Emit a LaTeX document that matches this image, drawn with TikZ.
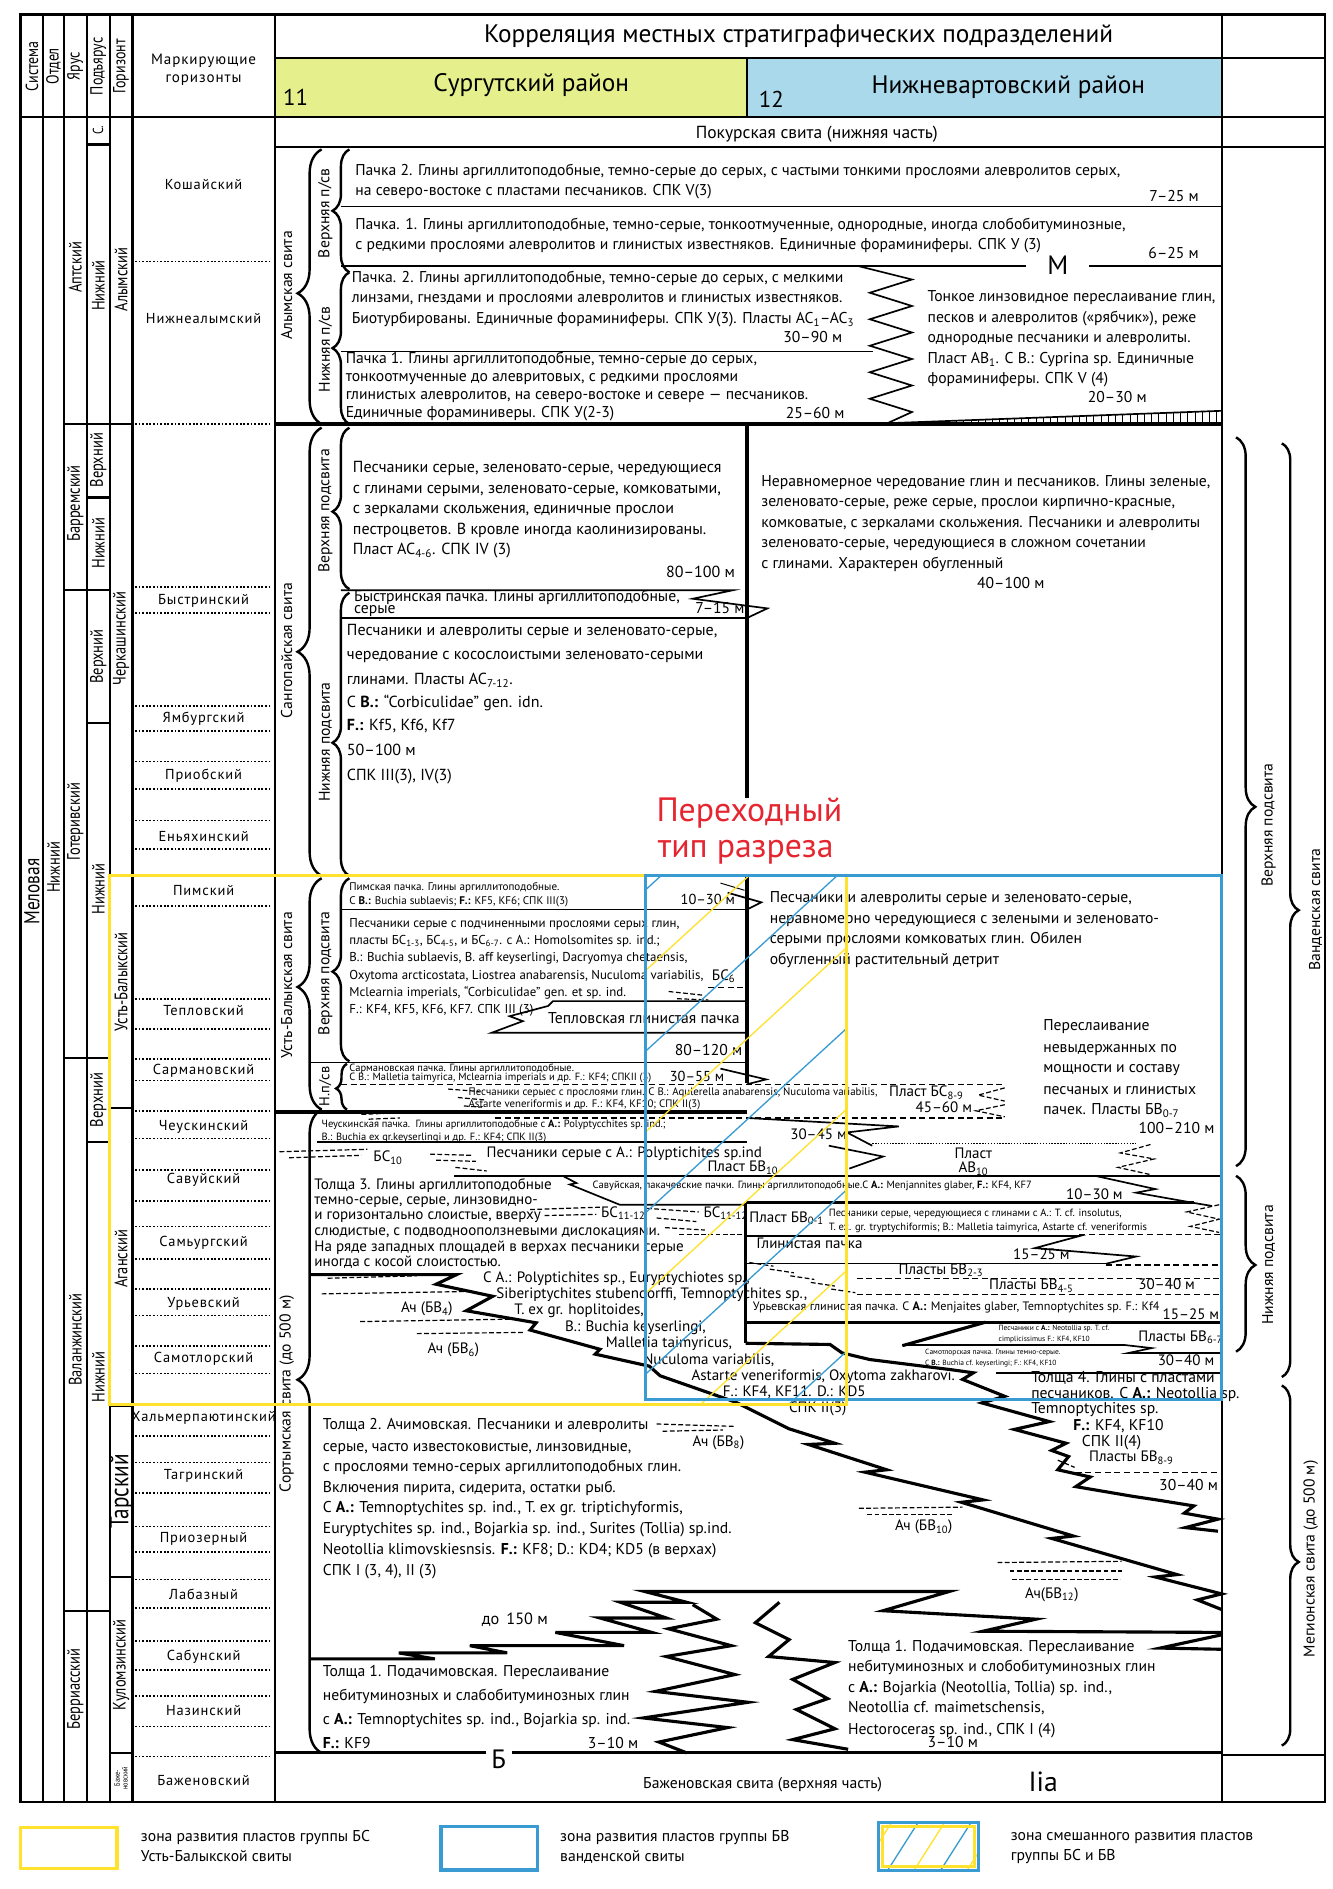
\documentclass[tikz,border=0pt]{standalone}
\usepackage{fontspec}
\setmainfont{PT Sans}
\newfontfamily\cnd[FakeStretch=0.8]{PT Sans}
\newfontfamily\mkf[LetterSpace=6]{PT Sans}
\usetikzlibrary{decorations.pathreplacing}
\definecolor{hdy}{HTML}{E5EF8C}
\definecolor{hdb}{HTML}{AAD9EC}
\definecolor{zy}{HTML}{FFE22E}
\definecolor{zb}{HTML}{3A9BD2}
\definecolor{rd}{HTML}{E52530}
\newcommand\fsz[1]{\fontsize{#1}{#1}\selectfont}
\newcommand\sbs[1]{\textsubscript{#1}}
\begin{document}
\begin{tikzpicture}[x=1pt,y=-1pt,
  every node/.style={inner sep=0pt,outer sep=0pt},
  fr/.style={line width=1.8pt},
  tk/.style={line width=2.6pt},
  md/.style={line width=1.4pt},
  tn/.style={line width=0.8pt},
  dsh/.style={line width=1pt,dash pattern=on 5pt off 3pt},
  mk/.style={line width=1.4pt,dash pattern=on 1.5pt off 1.5pt},
  lens/.style={line width=1pt,dash pattern=on 4pt off 2pt},
  bl/.style={decorate,decoration={brace,amplitude=20pt,aspect=#1},line width=2pt},
  bs/.style={decorate,decoration={brace,amplitude=14pt,aspect=#1},line width=2pt},
  bt/.style={decorate,decoration={brace,amplitude=9pt,aspect=#1},line width=2pt},
  br/.style={decorate,decoration={brace,amplitude=16pt,aspect=#1},line width=2pt},
  T/.style={font=\fsz{13},anchor=mid west},
  TR/.style={font=\fsz{13},anchor=mid east},
  S/.style={font=\fsz{10.7},anchor=mid west},
  P/.style={font=\fsz{9.2},anchor=mid west},
  X/.style={font=\fsz{8.7},anchor=mid west},
  XX/.style={font=\fsz{6.2},anchor=mid west},
  V/.style={rotate=90,font=\fsz{13}},
  C/.style={rotate=90,font=\cnd\fsz{15}}
]
\fill[white] (0,0) rectangle (1106,1568);
\useasboundingbox (0,0) rectangle (1106,1568);
% ---------------- header fills ----------------
\fill[hdy] (228,48) rectangle (620,97);
\fill[hdb] (620,48) rectangle (1014,97);
% ---------------- frame ----------------
\draw[fr] (17,12) rectangle (1100,1496);
\foreach \x in {36,53,72,91,110,228,1014} \draw[fr] (\x,12) -- (\x,1496);
\draw[fr] (17,97) -- (228,97);
\draw[fr] (228,48) -- (1100,48);
\draw[fr] (228,97) -- (1100,97);
\draw[fr] (228,122) -- (1100,122);
\draw[fr] (620,48) -- (620,97);
\draw[fr] (1014,1457) -- (1100,1457);
% left column cells
\foreach \y in {352,490,878,1337} \draw[fr] (53,\y) -- (72,\y);
\foreach \y in {120,352,413,490,600,878,948,1337} \draw[fr] (72,\y) -- (91,\y);
\foreach \y in {352,727,920,1167,1309,1455} \draw[fr] (91,\y) -- (110,\y);
\foreach \y in {217,352,487,509,586,607,632,655,681,705,752,829,854,879,897,922,945,971,997,1018,1045,1070,1092,1117,1140,1192,1214,1239,1267,1288,1311,1335,1362,1386,1408,1433,1458}
  \draw[mk] (112,\y) -- (226,\y);
% ---------------- header texts ----------------
\node[C,font=\cnd\fsz{14.5}] (h1) at (26.5,55) {Система};
\node[C,font=\cnd\fsz{14.5}] (h2) at (44.5,55) {Отдел};
\node[C,font=\cnd\fsz{14.5}] (h3) at (62.5,55) {Ярус};
\node[C,font=\cnd\fsz{14.5}] (h4) at (81.5,55) {Подъярус};
\node[C,font=\cnd\fsz{14.5}] (h5) at (100.5,55) {Горизонт};
\node[font=\mkf\fsz{12.5},align=center] (h6) at (169,58) {Маркирующие\\[3pt]горизонты};
\node[font=\fsz{21}] (title) at (663,30) {Корреляция местных стратиграфических подразделений};
\node[font=\fsz{21}] (reg1) at (441,71) {Сургутский район};
\node[font=\fsz{21}] (reg2) at (837,72) {Нижневартовский район};
\node[font=\fsz{19},anchor=mid west] (n11) at (235,85) {11};
\node[font=\fsz{19},anchor=mid west] (n12) at (630,87) {12};
\node[font=\fsz{14.5}] (pk) at (678,111) {Покурская свита (нижняя часть)};
% ---------------- stratigraphic columns ----------------
\node[C,font=\cnd\fsz{18}] (sys) at (26.5,740) {Меловая};
\node[C] (otd) at (44.5,720) {Нижний};
\node[C] (y1) at (62.5,222) {Аптский};
\node[C] (y2) at (62.5,418) {Барремский};
\node[C] (y3) at (62.5,682) {Готеривский};
\node[C] (y4) at (62.5,1112) {Валанжинский};
\node[C] (y5) at (62.5,1402) {Берриасский};
\node[C,font=\cnd\fsz{12}] (p1) at (81.5,108) {С.};
\node[C] (p2) at (81.5,237) {Нижний};
\node[C] (p3) at (81.5,382) {Верхний};
\node[C] (p4) at (81.5,451) {Нижний};
\node[C] (p5) at (81.5,545) {Верхний};
\node[C] (p6) at (81.5,738) {Нижний};
\node[C] (p7) at (81.5,913) {Верхний};
\node[C] (p8) at (81.5,1143) {Нижний};
\node[C] (g1) at (100.5,232) {Алымский};
\node[C] (g2) at (100.5,530) {Черкашинский};
\node[C] (g3) at (100.5,815) {Усть-Балыкский};
\node[C] (g4) at (100.5,1045) {Аганский};
\node[C,font=\cnd\fsz{22}] (g5) at (101,1238) {Тарский};
\node[C] (g6) at (100.5,1382) {Куломзинский};
\node[C,font=\cnd\fsz{6.5},align=center] (g7) at (100.5,1476) {Баже-\\новский};
\foreach \y/\t [count=\i] in {153/Кошайский,264/Нижнеалымский,499/Быстринский,597/Ямбургский,644/Приобский,694/Еньяхинский,739/Пимский,839/Тепловский,889/Сармановский,935/Чеускинский,979/Савуйский,1032/Самьургский,1082/Урьевский,1128/Самотлорский,1177/Хальмерпаютинский,1225/Тагринский,1277/Приозерный,1323/Лабазный,1375/Сабунский,1420/Назинский,1478/Баженовский}
  \node[font=\mkf\fsz{12}] (mk\i) at (169,\y) {\t};
% =============== ALYM ===============
\node[V] (al0) at (238,237) {Алымская свита};
\draw[bl=0.476] (267,352) -- (267,124);
\node[V] (al1) at (270,177) {Верхняя п/св};
\node[V] (al2) at (270,290) {Нижняя п/св};
\draw[bs=0.5] (290,226) -- (290,124);
\draw[bs=0.5] (290,352) -- (290,226);
\draw[tn] (283,171.5) -- (1014,171.5);
\draw[md] (283,221) -- (852,221);
\draw[md] (904,221) -- (1014,221);
\draw[tn] (283,292) -- (725,292);
\draw[md] (713,221) -- (757,232) -- (722,243) -- (757,254) -- (722,265) -- (757,276) -- (722,287) -- (757,298) -- (722,309) -- (757,320) -- (722,331) -- (757,342) -- (735,352);
\draw[md] (745,351) -- (1014,341);
\foreach \x in {752,758,...,1010} \draw[tn] (\x,{351-(\x-745)*10/269}) -- (\x,352);
\draw[tk] (228,352) -- (1014,352);
\node[T] (a1) at (295,143) {Пачка 2. Глины аргиллитоподобные, темно-серые до серых, с частыми тонкими прослоями алевролитов серых,};
\node[T] (a2) at (295,160) {на северо-востоке с пластами песчаников. СПК V(3)};
\node[TR] (a3) at (995,165) {7–25 м};
\node[T] (a4) at (295,188) {Пачка. 1. Глины аргиллитоподобные, темно-серые, тонкоотмученные, однородные, иногда слобобитуминозные,};
\node[T] (a5) at (295,205) {с редкими прослоями алевролитов и глинистых известняков. Единичные фораминиферы. СПК У (3)};
\node[TR] (a6) at (995,212) {6–25 м};
\node[font=\fsz{22}] (a7) at (878,220) {М};
\node[T] (a8) at (292,232) {Пачка. 2. Глины аргиллитоподобные, темно-серые до серых, с мелкими};
\node[T] (a9) at (292,249) {линзами, гнездами и прослоями алевролитов и глинистых известняков.};
\node[T] (a10) at (292,266) {Биотурбированы. Единичные фораминиферы. СПК У(3). Пласты АС\sbs{1}–АС\sbs{3}};
\node[TR] (a11) at (699,282) {30–90 м};
\node[T] (a12) at (287,299) {Пачка 1. Глины аргиллитоподобные, темно-серые до серых,};
\node[T] (a13) at (287,314) {тонкоотмученные до алевритовых, с редкими прослоями};
\node[T] (a14) at (287,329) {глинистых алевролитов, на северо-востоке и севере — песчаников.};
\node[T] (a15) at (287,344) {Единичные фораминиверы. СПК У(2-3)};
\node[TR] (a16) at (701,345) {25–60 м};
\node[T] (a17) at (770,248) {Тонкое линзовидное переслаивание глин,};
\node[T] (a18) at (770,265) {песков и алевролитов («рябчик»), реже};
\node[T] (a19) at (770,282) {однородные песчаники и алевролиты.};
\node[T] (a20) at (770,299) {Пласт АВ\sbs{1}. С В.: Cyprina sp. Единичные};
\node[T] (a21) at (770,316) {фораминиферы. СПК V (4)};
\node[T] (a22) at (903,332) {20–30 м};
% =============== SANGOPAY ===============
\node[V] (sg0) at (238,540) {Сангопайская свита};
\draw[bl=0.5] (267,727) -- (267,355);
\node[V] (sg1) at (270,424) {Верхняя подсвита};
\node[V] (sg2) at (270,616) {Нижняя подсвита};
\draw[bs=0.48] (290,489) -- (290,355);
\draw[bs=0.47] (290,727) -- (290,492);
\draw[md] (283,490) -- (608,490) -- (575,497) -- (637,505) -- (620,513);
\draw[md] (283,513) -- (620,513);
\draw[tk] (620,352) -- (620,662);
\node[font=\fsz{13.3},anchor=mid west] (s1) at (293,390) {Песчаники серые, зеленовато-серые, чередующиеся};
\node[font=\fsz{13.3},anchor=mid west] (s2) at (293,407) {с глинами серыми, зеленовато-серые, комковатыми,};
\node[font=\fsz{13.3},anchor=mid west] (s3) at (293,424) {с зеркалами скольжения, единичные прослои};
\node[font=\fsz{13.3},anchor=mid west] (s4) at (293,441) {пестроцветов. В кровле иногда каолинизированы.};
\node[font=\fsz{13.3},anchor=mid west] (s5) at (293,458) {Пласт АС\sbs{4-6}. СПК IV (3)};
\node[font=\fsz{13.3},anchor=mid east] (s6) at (610,477) {80–100 м};
\node[T] (s7) at (294,497) {Быстринская пачка. Глины аргиллитоподобные,};
\node[T] (s8) at (294,507) {серые};
\node[TR] (s9) at (618,507) {7–15 м};
\node[font=\fsz{13.3},anchor=mid west] (s10) at (288,525) {Песчаники и алевролиты серые и зеленовато-серые,};
\node[font=\fsz{13.3},anchor=mid west] (s11) at (288,545) {чередование с косослоистыми зеленовато-серыми};
\node[font=\fsz{13.3},anchor=mid west] (s12) at (288,566) {глинами. Пласты АС\sbs{7-12}.};
\node[font=\fsz{13.3},anchor=mid west] (s13) at (288,585) {С \textbf{В.:} “Corbiculidae” gen. idn.};
\node[font=\fsz{13.3},anchor=mid west] (s14) at (288,604) {\textbf{F.:} Kf5, Kf6, Kf7};
\node[font=\fsz{13.3},anchor=mid west] (s15) at (288,625) {50–100 м};
\node[font=\fsz{13.3},anchor=mid west] (s16) at (288,645) {СПК III(3), IV(3)};
\node[T] (s17) at (632,401) {Неравномерное чередование глин и песчаников. Глины зеленые,};
\node[T] (s18) at (632,418) {зеленовато-серые, реже серые, прослои кирпично-красные,};
\node[T] (s19) at (632,435) {комковатые, с зеркалами скольжения. Песчаники и алевролиты};
\node[T] (s20) at (632,452) {зеленовато-серые, чередующиеся в сложном сочетании};
\node[T] (s21) at (632,469) {с глинами. Характерен обугленный};
\node[font=\fsz{13}] (s22) at (839,484) {40–100 м};
\node[font=\fsz{28},text=rd] (red1) at (622,675) {Переходный};
\node[font=\fsz{28},text=rd] (red2) at (619,707) {тип разреза};
% =============== UST-BALYK ===============
\node[V] (ub0) at (238,818) {Усть-Балыкская свита};
\draw[bl=0.53] (267,921) -- (267,729);
\node[V] (ub1) at (270,808) {Верхняя подсвита};
\node[V,font=\fsz{12}] (ub2) at (270,902) {Н.п/св};
\draw[bs=0.49] (290,881) -- (290,729);
\draw[bt=0.46] (288,921) -- (288,883);
\draw[md] (284,755) -- (620,755);
\draw[tn] (598,733) -- (618,739);
\draw[md] (604,741) -- (632,749) -- (620,755);
\draw[tk] (620,727) -- (620,899);
\draw[md] (620,831) -- (459,831) -- (455,835) -- (423,843.5) -- (434,847.6) -- (408,857.3) -- (620,857.3);
\draw[dsh] (588,820) -- (620,820);
\draw[lens] (555,823) -- (583,826);
\draw[lens] (562,829) -- (588,830);
\draw[md] (257,882) -- (622,882);
\draw[md] (598,887) -- (636,896) -- (620,900);
\draw[dsh] (283,900) -- (834,900);
\draw[tk] (228,923) -- (620,923);
\draw[dsh] (411,928) -- (834,928);
\draw[lens] (834,903) -- (812,909) -- (834,914);
\draw[lens] (834,917) -- (810,922) -- (834,927);
\node[P] (u1) at (290,737) {Пимская пачка. Глины аргиллитоподобные.};
\node[P] (u2) at (290,748) {С \textbf{B.:} Buchia sublaevis; \textbf{F.:} KF5, KF6; СПК III(3)};
\node[font=\fsz{12},anchor=mid west] (u3) at (565,748) {10–30 м};
\node[S] (u4) at (290,767.5) {Песчаники серые с подчиненными прослоями серых глин,};
\node[S] (u5) at (290,781.5) {пласты БС\sbs{1-3}, БС\sbs{4-5}, и БС\sbs{6-7}. с А.: Homolsomites sp. ind.;};
\node[S] (u6) at (290,796) {B.: Buchia sublaevis, B. aff keyserlingi, Dacryomya chetaensis,};
\node[S] (u7) at (290,810.5) {Oxytoma arcticostata, Liostrea anabarensis, Nuculoma variabilis,};
\node[font=\fsz{12.5},anchor=mid west] (u8) at (591,811) {БС\sbs{6}};
\node[S] (u9) at (290,825) {Mclearnia imperials, “Corbiculidae” gen. et sp. ind.};
\node[S] (u10) at (290,839) {F.: KF4, KF5, KF6, KF7. СПК III (3)};
\node[T] (u11) at (455,847) {Тепловская глинистая пачка};
\node[TR] (u12) at (616,874) {80–120 м};
\node[X] (u13) at (290,887) {Сармановская пачка. Глины аргиллитоподобные.};
\node[X] (u14) at (290,894.5) {С В.: Malletia taimyrica, Mclearnia imperials и др. F.: KF4; СПКII (3)};
\node[font=\fsz{12},anchor=mid west] (u15) at (556,895) {30–55 м};
\node[font=\fsz{9},anchor=mid west] (u16) at (389,907) {Песчаники серыес с прослоями глин. С В.: Aqulerella anabarensis, Nuculoma variabilis,};
\node[font=\fsz{9},anchor=mid west] (u17) at (389,917) {Astarte veneriformis и др. F.: KF4, KF10; СПК II(3)};
\node[font=\fsz{12.5},anchor=mid west] (u18) at (738,908) {Пласт БС\sbs{8-9}};
\node[font=\fsz{12.5},anchor=mid west] (u19) at (760,921) {45–60 м};
\draw[lens] (372,904) -- (398,906);
\draw[lens] (380,911) -- (402,913);
\draw[lens] (385,918) -- (400,919);
\draw[lens] (300,925) -- (345,923);
\draw[lens] (306,929) -- (332,928);
\node[T] (u20) at (639,747) {Песчаники и алевролиты серые и зеленовато-серые,};
\node[T] (u21) at (639,764) {неравномерно чередующиеся с зелеными и зеленовато-};
\node[T] (u22) at (639,781) {серыми прослоями комковатых глин. Обилен};
\node[T] (u23) at (639,798.5) {обугленный растительный детрит};
\node[T] (u24) at (866,853) {Переслаивание};
\node[T] (u25) at (866,871) {невыдержанных по};
\node[T] (u26) at (866,888) {мощности и составу};
\node[T] (u27) at (866,906) {песчаных и глинистых};
\node[T] (u28) at (866,923) {пачек. Пласты БВ\sbs{0-7}};
\node[TR] (u29) at (1008,938) {100–210 м};
% =============== SORTYM ===============
\node[V] (st0) at (238,1157) {Сортымская свита (до 500 м)};
\draw[bl=0.58] (267,1455) -- (267,921);
\node[X] (c1) at (267,933) {Чеускинская пачка.\, Глины аргиллитоподобные с \textbf{A.:} Polyptycchites sp. ind.;};
\node[X] (c2) at (267,944.5) {B.: Buchia ex gr.keyserlingi и др. F.: KF4; СПК II(3)};
\draw[md] (263,948) -- (620,948);
\draw[md] (620,928) -- (746,935) -- (703,940) -- (724,951);
\draw[line width=1pt,dash pattern=on 1.2pt off 1.2pt] (724,949) -- (943,949);
\node[font=\fsz{12.5},anchor=mid west] (c3) at (656,943) {30–45 м};
\draw[lens] (232,956) -- (305,954);
\draw[lens] (240,961) -- (300,959);
\draw[lens] (357,958) -- (392,959);
\draw[lens] (362,963) -- (395,964);
\draw[lens] (378,969) -- (404,972);
\node[font=\fsz{12.5},anchor=mid west] (c4) at (310,962) {БС\sbs{10}};
\node[font=\fsz{12.5},anchor=mid west] (c5) at (404,958) {Песчаники серые с А.: Polyptichites sp.ind};
\node[font=\fsz{12.5},anchor=mid east] (c6) at (646,970) {Пласт БВ\sbs{10}};
\draw[md] (688,951) -- (733,960) -- (705,970);
\node[font=\fsz{12.5}] (c7) at (808,957) {Пласт};
\node[font=\fsz{12.5}] (c8) at (808,970) {АВ\sbs{10}};
\draw[lens] (955,950) -- (930,957) -- (958,962) -- (928,969) -- (955,975);
\draw[md] (377,976) -- (1014,976);
\draw[md] (467,976) -- (478.5,982) -- (473,983.2) -- (514.4,1000) -- (619,1000);
\draw[md] (909,976) -- (959,987) -- (943,990) -- (991,998.5) -- (1006,1001);
\node[X] (c9) at (492,984) {Савуйская, пакачевские пачки. Глины аргиллитоподобные.С \textbf{A.:} Menjannites glaber, \textbf{F.:} KF4, KF7};
\node[font=\fsz{12.5},anchor=mid west] (c10) at (885,993) {10–30 м};
% box BV
\draw[tk] (619,998.5) -- (991,998.5);
\draw[tk] (619,998.5) -- (619,1115);
\node[font=\fsz{12.5},anchor=mid west] (v1) at (622,1012) {Пласт БВ\sbs{0-1}};
\node[X] (v2) at (688,1007) {Песчаники серые, чередующиеся с глинами с А.: T. cf. insolutus,};
\node[X] (v3) at (688,1018.5) {T. ex. gr. tryptychiformis; B.: Malletia taimyrica, Astarte cf. veneriformis};
\draw[lens] (1012,1000) -- (985,1006) -- (1012,1012) -- (988,1018) -- (1012,1023);
\draw[dsh] (896,1025) -- (1014,1025);
\draw[md] (619,1026) -- (896,1026) -- (859,1036) -- (943,1043) -- (918,1049);
\node[font=\fsz{12.5},anchor=mid west] (v4) at (628,1034) {Глинистая пачка};
\node[font=\fsz{12.5},anchor=mid west] (v5) at (841,1043) {15–25 м};
\draw[tn] (619,1049) -- (918,1049);
\draw[dsh] (918,1050) -- (1014,1050);
\draw[dsh] (711,1061.5) -- (1014,1061.5);
\draw[dsh] (711,1074.5) -- (1014,1074.5);
\foreach \i in {0,...,4} \draw[lens] ({622+\i*17},{1048+\i*5.5}) -- ({642+\i*17},{1051+\i*5.5});
\node[font=\fsz{12.5},anchor=mid west] (v6) at (746,1055) {Пласты БВ\sbs{2-3}};
\node[font=\fsz{12.5},anchor=mid west] (v7) at (821,1068) {Пласты БВ\sbs{4-5}};
\node[font=\fsz{12.5},anchor=mid west] (v8) at (945,1068) {30–40 м};
\node[font=\fsz{10.1},anchor=mid west] (v9) at (625,1085) {Урьевская глинистая пачка. С \textbf{A.:} Menjaites glaber, Temnoptychites sp. F.: Kf4};
\node[font=\fsz{12.5},anchor=mid east] (v10) at (1012,1093) {15–25 м};
\draw[tk] (619,1097.5) -- (1014,1097.5);
\draw[tk] (818,1097.5) -- (749,1117);
\draw[md] (749,1116.5) -- (934,1116.5) -- (956,1119) -- (937,1123) -- (1014,1123);
\node[XX] (v11) at (829,1102) {Песчаники с \textbf{A.:} Neotollia sp. T. cf.};
\node[XX] (v12) at (829,1111) {cimplicissimus F.: KF4, KF10};
\node[font=\fsz{12.5},anchor=mid west] (v13) at (945,1111) {Пласты БВ\sbs{6-7}};
\node[XX] (v14) at (768,1122) {Самотлорская пачка. Глины темно-серые.};
\node[XX] (v15) at (768,1131) {С \textbf{B.:} Buchia cf. keyserlingi; F.: KF4, KF10};
\node[font=\fsz{12.5},anchor=mid west] (v16) at (961,1131) {30–40 м};
\draw[md] (827,1139.5) -- (1014,1139.5);
\draw[tk] (619,1115) -- (689,1116) -- (699,1123) -- (722,1128.5) -- (790,1137) -- (808,1139.5) -- (799,1145) -- (834,1159) -- (815,1164.5) -- (871,1180) -- (842,1186.5) -- (885,1198) -- (873,1204) -- (887,1209) -- (878,1220) -- (905,1226) -- (893,1234) -- (940,1242) -- (960,1245) -- (991,1250) -- (983,1256) -- (1011,1261) -- (984,1268) -- (1011,1271);
% Tolshcha 3
\node[font=\fsz{12.5},anchor=mid west] (t1) at (261,985) {Толща 3. Глины аргиллитоподобные};
\node[font=\fsz{12.5},anchor=mid west] (t2) at (261,997.5) {темно-серые, серые, линзовидно-};
\node[font=\fsz{12.5},anchor=mid west] (t3) at (261,1010) {и горизонтально слоистые, вверху};
\node[font=\fsz{12.5},anchor=mid west] (t4) at (261,1023) {слюдистые, с подводнооползневыми дислокациями.};
\node[font=\fsz{12.5},anchor=mid west] (t5) at (261,1036) {На ряде западных площадей в верхах песчаники серые};
\node[font=\fsz{12.5},anchor=mid west] (t6) at (261,1049) {иногда с косой слоистостью.};
\draw[lens] (440,1004) -- (500,1002);
\draw[lens] (452,1009) -- (495,1008);
\node[font=\fsz{12.5},anchor=mid west] (t7) at (499,1008) {БС\sbs{11-12}};
\draw[lens] (537,1003) -- (580,1006);
\draw[lens] (545,1011) -- (578,1014);
\draw[lens] (552,1019) -- (585,1021);
\draw[lens] (564,1025) -- (619,1025);
\node[font=\fsz{12.5},anchor=mid west] (t8) at (584,1008) {БС\sbs{11-12}};
\node[font=\fsz{12.5},anchor=mid west] (t9) at (401,1062) {С A.: Polyptichites sp., Euryptychiotes sp.,};
\node[font=\fsz{12.5},anchor=mid west] (t10) at (412,1075.5) {Siberiptychites stubendorffi, Temnoptychites sp.,};
\node[font=\fsz{12.5},anchor=mid west] (t11) at (427,1089) {T. ex gr. hoplitoides,};
\node[font=\fsz{12.5},anchor=mid west] (t12) at (469,1103) {B.: Buchia keyserlingi,};
\node[font=\fsz{12.5},anchor=mid west] (t13) at (503,1116) {Malletia taimyricus,};
\node[font=\fsz{12.5},anchor=mid west] (t14) at (534,1130) {Nuculoma variabilis,};
\node[font=\fsz{12.5},anchor=mid west] (t15) at (574,1143) {Astarte veneriformis, Oxytoma zakharovi.};
\node[font=\fsz{12.5},anchor=mid west] (t16) at (600,1157) {F.: KF4, KF11. D.: KD5};
\node[font=\fsz{12.5},anchor=mid west] (t17) at (655,1170) {СПК II(3)};
\draw[lens] (272,1061) -- (346,1059);
\draw[lens] (267,1074) -- (390,1072);
\node[font=\fsz{12.5},anchor=mid west] (t18) at (333,1087) {Ач (БВ\sbs{4})};
\draw[lens] (299,1097) -- (423,1095);
\draw[lens] (346,1107) -- (434,1106);
\node[font=\fsz{12.5},anchor=mid west] (t19) at (355,1121) {Ач (БВ\sbs{6})};
\draw[tk] (257,1058) -- (379,1058) -- (362,1066) -- (409,1076) -- (387,1088) -- (445,1098) -- (440,1104) -- (498,1120) -- (494,1124) -- (539,1134) -- (548,1142) -- (611,1164) -- (655,1186) -- (693,1198) -- (671,1199) -- (736,1220) -- (718,1222) -- (816,1245) -- (798,1247) -- (891,1275) -- (873,1277) -- (977,1307) -- (959,1309) -- (1014,1323) -- (994,1328) -- (1014,1336);
% Tolshcha 4
\node[T] (f1) at (856,1145) {Толща 4. Глины с пластами};
\node[T] (f2) at (856,1158) {песчаников. С \textbf{A.:} Neotollia sp.};
\node[T] (f3) at (856,1171) {Temnoptychites sp.};
\node[T] (f4) at (891,1185) {\textbf{F.:} KF4, KF10};
\node[T] (f5) at (898,1198) {СПК II(4)};
\node[font=\fsz{12.5},anchor=mid west] (f6) at (904,1211) {Пласты БВ\sbs{8-9}};
\draw[dsh] (885,1222) -- (1012,1222);
\draw[lens] (878,1212) -- (892,1218);
\node[TR] (f7) at (1011,1235) {30–40 м};
% Tolshcha 2
\node[T] (w1) at (268,1184) {Толща 2. Ачимовская. Песчаники и алевролиты};
\node[T] (w2) at (268,1202) {серые, часто известоковистые, линзовидные,};
\node[T] (w3) at (268,1219) {с прослоями темно-серых аргиллитоподобных глин.};
\node[T] (w4) at (268,1236) {Включения пирита, сидерита, остатки рыб.};
\node[T] (w5) at (268,1253) {С \textbf{A.:} Temnoptychites sp. ind., T. ex gr. triptichyformis,};
\node[T] (w6) at (268,1270) {Euryptychites sp. ind., Bojarkia sp. ind., Surites (Tollia) sp.ind.};
\node[T] (w7) at (268,1288) {Neotollia klimovskiesnsis. \textbf{F.:} KF8; D.: KD4; KD5 (в верхах)};
\node[T] (w8) at (268,1305) {СПК I (3, 4), II (3)};
\draw[lens] (545,1182) -- (610,1184);
\draw[lens] (550,1188) -- (600,1187);
\node[font=\fsz{12.5},anchor=mid west] (w9) at (575,1198) {Ач (БВ\sbs{8})};
\draw[lens] (713,1252) -- (799,1251);
\draw[lens] (720,1257) -- (790,1257);
\node[font=\fsz{12.5},anchor=mid west] (w10) at (743,1268) {Ач (БВ\sbs{10})};
\draw[lens] (828,1297) -- (931,1296);
\draw[lens] (838,1304) -- (931,1304);
\draw[lens] (840,1311) -- (930,1311);
\node[font=\fsz{12.5},anchor=mid west] (w11) at (851,1324) {Ач(БВ\sbs{12})};
% Tolshcha 1
\draw[tk] (258,1377) -- (361,1377) -- (331,1372) -- (421,1372) -- (390,1366) -- (518,1366) -- (461,1355) -- (541,1355) -- (498,1343) -- (553,1343) -- (515,1330) -- (570,1330) -- (535,1321) -- (788,1321) -- (733,1337) -- (860,1344) -- (816,1354) -- (1014,1355);
\draw[tk] (1014,1357) -- (963,1368) -- (1014,1369);
\draw[tk] (575,1332) -- (595,1344) -- (555,1352) -- (607,1366) -- (553,1375) -- (610,1390) -- (544,1404) -- (621,1413) -- (534,1426) -- (604,1434) -- (547,1446) -- (570,1455);
\draw[tk] (647,1330) -- (627,1347) -- (655,1361) -- (638,1375) -- (693,1380) -- (658,1394) -- (687,1410) -- (661,1419) -- (693,1435) -- (658,1444) -- (704,1452);
\node[font=\fsz{13.5},anchor=mid west] (z0) at (400,1346) {до\, 150 м};
\node[T] (z1) at (268,1389) {Толща 1. Подачимовская. Переслаивание};
\node[T] (z2) at (268,1409) {небитуминозных и слабобитуминозных глин};
\node[T] (z3) at (268,1429) {с \textbf{A.:} Temnoptychites sp. ind., Bojarkia sp. ind.};
\node[T] (z4) at (268,1449) {\textbf{F.:} KF9};
\node[T] (z5) at (488,1449) {3–10 м};
\node[T] (z6) at (704,1368) {Толща 1. Подачимовская. Переслаивание};
\node[T] (z7) at (704,1385) {небитуминозных и слобобитуминозных глин};
\node[T] (z8) at (704,1402) {с \textbf{A.:} Bojarkia (Neotollia, Tollia) sp. ind.,};
\node[T] (z9) at (704,1419) {Neotollia cf. maimetschensis,};
\node[T] (z10) at (704,1437) {Hectoroceras sp. ind., СПК I (4)};
\node[T] (z11) at (770,1448) {3–10 м};
\draw[tk] (228,1455) -- (403,1455);
\draw[tk] (425,1455) -- (1014,1455);
\node[font=\fsz{22}] (bb) at (414,1460) {Б};
\node[font=\fsz{13}] (bz) at (633,1481) {Баженовская свита (верхняя часть)};
\node[font=\fsz{23}] (iia) at (866,1479) {Iia};
% =============== RIGHT BRACES ===============
\draw[br=0.507] (1026,363) -- (1026,968);
\draw[br=0.507] (1026,976) -- (1026,1122);
\draw[bs=0.5] (1064,368) -- (1064,1143);
\draw[bs=0.49] (1064,1150) -- (1064,1449);
\node[V,font=\fsz{13}] (k1) at (1053,685) {Верхняя подсвита};
\node[V,font=\fsz{13}] (k2) at (1053,1050) {Нижняя подсвита};
\node[V,font=\fsz{13}] (k3) at (1092,755) {Ванденская свита};
\node[V,font=\fsz{13}] (k4) at (1088,1294) {Мегионская свита (до 500 м)};
% =============== ZONES ===============
\begin{scope}
\clip (536,727) rectangle (703,1164);
\foreach \k in {-2,...,8} {
  \pgfmathsetmacro\yy{805+67*\k}
  \ifodd\k \def\cc{zb}\else\def\cc{zy}\fi
  \draw[\cc,line width=1.1pt] (500,{\yy+33.5}) -- (740,{\yy-186.5});
}
\end{scope}
\draw[zy,line width=2.4pt] (91,727) rectangle (703,1166);
\draw[zb,line width=2.4pt] (536,727) rectangle (1014,1162);
\draw[zy,line width=2.4pt] (703,729) -- (703,1166);
% =============== LEGEND ===============
\draw[zy,line width=3pt] (17,1517) rectangle (97,1551);
\node[T] (l1) at (117,1526) {зона развития пластов группы БС};
\node[T] (l2) at (117,1543) {Усть-Балыкской свиты};
\draw[zb,line width=3pt] (366,1516) rectangle (446,1552);
\node[T] (l3) at (465,1526) {зона развития пластов группы БВ};
\node[T] (l4) at (465,1543) {ванденской свиты};
\begin{scope}
\clip (730,1514) rectangle (811,1552);
\foreach \k in {0,...,5} {
  \ifodd\k \def\cc{zb}\else\def\cc{zy}\fi
  \draw[\cc,line width=1.1pt] ({710+\k*22},1560) -- ({745+\k*22},1505);
}
\end{scope}
\draw[zb,line width=2.5pt] (729,1513) rectangle (812,1553);
\draw[zy,line width=2.5pt] (732.5,1516.5) rectangle (808.5,1549.5);
\node[T] (l5) at (839,1525) {зона смешанного развития пластов};
\node[T] (l6) at (839,1542) {группы БС и БВ};
\end{tikzpicture}
\end{document}
